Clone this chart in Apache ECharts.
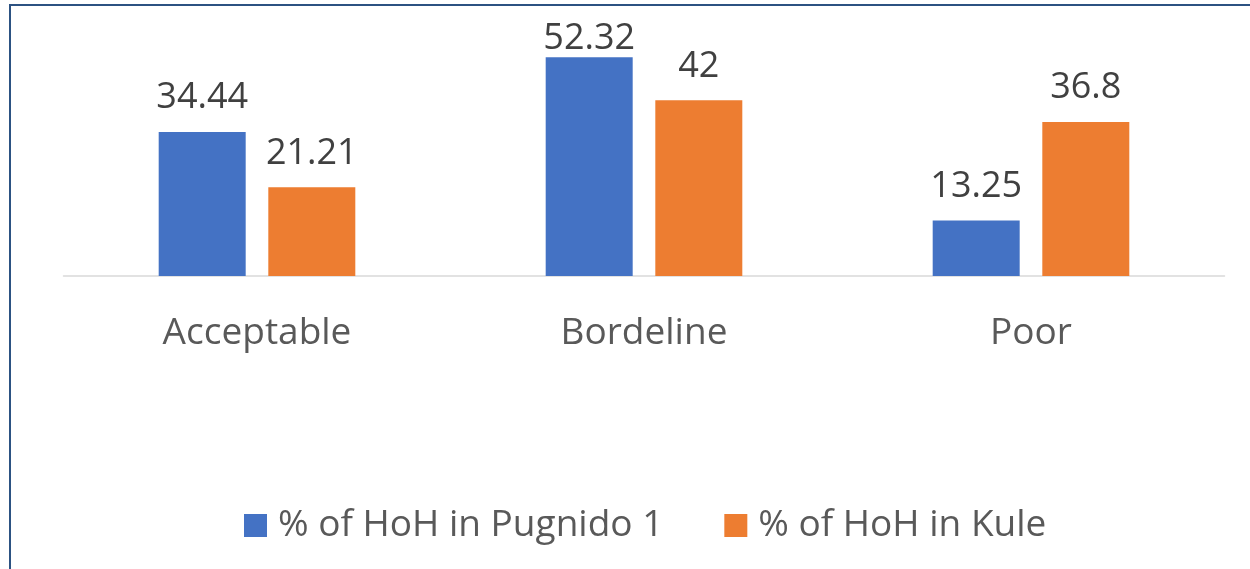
<!DOCTYPE html>
<html>
<head>
<meta charset="utf-8">
<script src="https://cdn.jsdelivr.net/npm/echarts@6/dist/echarts.min.js"></script>
<style>
html,body{margin:0;padding:0;background:#fff;}
#chart{width:1250px;height:569px;}
</style>
</head>
<body>
<div id="chart"></div>
<script>
const categories = ['Acceptable', 'Bordeline', 'Poor'];
const seriesNames = ['% of HoH in Pugnido 1', '% of HoH in Kule'];
const pugnido = [34.44, 52.32, 13.25];
const kule = [21.21, 42, 36.8];
const colors = ['#4472C4', '#ED7D31'];

const chart = echarts.init(document.getElementById('chart'));
const font = '"Open Sans", "Noto Sans", sans-serif';
const labelStyle = {
  show: true, position: 'top', distance: 16,
  color: '#404040', fontSize: 36, fontFamily: font
};
// labels near the top of the plot area are pulled down to stay inside it (as in the source)
function withLabels(values) {
  return values.map(v => v > 50 ? { value: v, label: { distance: 0 } } : v);
}
chart.setOption({
  animation: false,
  backgroundColor: '#fff',
  color: colors,
  graphic: [{
    type: 'rect', silent: true,
    shape: { x: 10, y: 5, width: 1300, height: 620 },
    style: { fill: 'none', stroke: '#2c5282', lineWidth: 2 }
  }],
  grid: { left: 63.5, right: 25.5, top: 25, bottom: 293 },
  xAxis: {
    type: 'category', data: categories,
    axisLine: { lineStyle: { color: '#d9d9d9', width: 1.5 } },
    axisTick: { show: false },
    axisLabel: { color: '#595959', fontSize: 37, fontFamily: font, margin: 39 }
  },
  yAxis: {
    type: 'value', min: 0, max: 60, interval: 10,
    show: false, splitLine: { show: false }
  },
  legend: {
    data: seriesNames,
    left: 239, top: 502,
    itemWidth: 23, itemHeight: 23, itemGap: 61,
    icon: 'rect',
    textStyle: { color: '#595959', fontSize: 37, fontFamily: font, padding: [0, 0, 0, 6] }
  },
  series: [
    { name: seriesNames[0], type: 'bar', data: withLabels(pugnido), barWidth: 87, barGap: '26%', label: labelStyle },
    { name: seriesNames[1], type: 'bar', data: withLabels(kule), barWidth: 87, barGap: '26%', label: labelStyle }
  ]
});
</script>
</body>
</html>
